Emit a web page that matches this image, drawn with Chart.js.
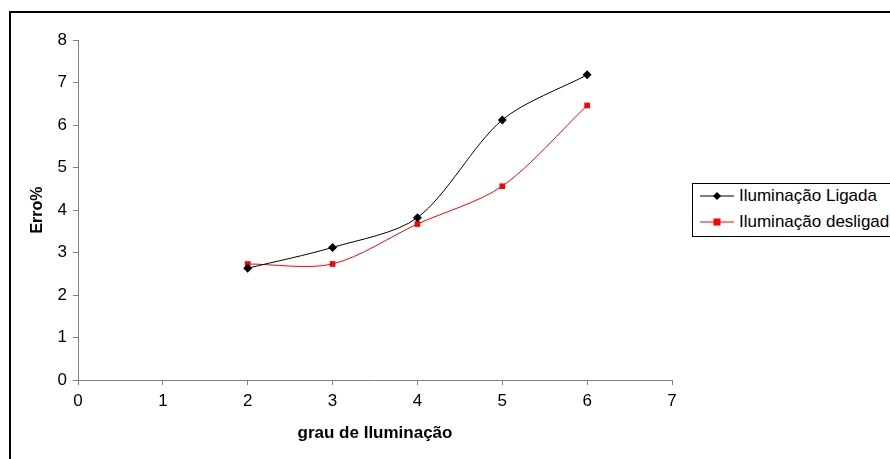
<!DOCTYPE html>
<html>
<head>
<meta charset="utf-8">
<script src="https://cdn.jsdelivr.net/npm/chart.js@4/dist/chart.umd.min.js"></script>
<style>
    body { margin: 0; background: #fff; overflow: hidden; }
    #wrap { position: relative; width: 890px; height: 459px; }
    #moldura { position: absolute; left: 9px; top: 11px; width: 900px; height: 470px; border: 2px solid #000; }
    #legenda { position: absolute; left: 692px; top: 183px; width: 220px; height: 52px; border: 1px solid #000;
        font-family: 'Liberation Sans', Arial, sans-serif; font-size: 17px; color: #000; background: #fff; }
    .item { position: absolute; left: 0; height: 22px; white-space: nowrap; }
    .item span { position: absolute; left: 46px; top: 0px; line-height: 20px; }
    .item svg { position: absolute; left: 7px; top: 3px; }
</style>
</head>
<body>
<div id="wrap">
    <div id="moldura"></div>
    <canvas id="grafico" width="890" height="459"></canvas>
    <div id="legenda">
        <div class="item" style="top:2px">
            <svg width="36" height="14"><line x1="0" y1="7" x2="34" y2="7" stroke="#000" stroke-width="1"/><polygon points="17,3 21,7 17,11 13,7" fill="#000"/></svg>
            <span>Iluminação Ligada</span>
        </div>
        <div class="item" style="top:28px">
            <svg width="36" height="14"><line x1="0" y1="7" x2="34" y2="7" stroke="#ff0000" stroke-width="1"/><rect x="13.5" y="3.5" width="7" height="7" fill="#ff0000"/></svg>
            <span>Iluminação desligada</span>
        </div>
    </div>
</div>
<script>
// dados
const grauIluminacao = [2, 3, 4, 5, 6];
const erroLigada = [2.63, 3.12, 3.82, 6.12, 7.18];
const erroDesligada = [2.73, 2.73, 3.67, 4.56, 6.46];
const ticksX = [0, 1, 2, 3, 4, 5, 6, 7];
const ticksY = [0, 1, 2, 3, 4, 5, 6, 7, 8];

Chart.defaults.font.family = "'Liberation Sans', Arial, sans-serif";
Chart.defaults.color = '#000';

const pontos = (ys) => grauIluminacao.map((x, i) => ({ x: x, y: ys[i] }));

new Chart(document.getElementById('grafico').getContext('2d'), {
    type: 'scatter',
    data: {
        datasets: [
            { label: 'Iluminação Ligada', data: pontos(erroLigada), showLine: true, borderColor: '#000', backgroundColor: '#000',
              borderWidth: 1, pointStyle: 'rectRot', pointRadius: 4.5, pointBorderWidth: 0, tension: 0.3 },
            { label: 'Iluminação desligada', data: pontos(erroDesligada), showLine: true, borderColor: '#ff0000', backgroundColor: '#ff0000',
              borderWidth: 1, pointStyle: 'rect', pointRadius: 4, pointBorderWidth: 0, tension: 0.3 }
        ]
    },
    options: {
        responsive: false,
        animation: false,
        layout: { padding: { top: 40, right: 218, left: 0, bottom: 0 } },
        plugins: { legend: { display: false }, tooltip: { enabled: false } },
        scales: {
            x: {
                type: 'linear', min: 0, max: 7,
                afterBuildTicks: (s) => { s.ticks = ticksX.map(v => ({ value: v })); },
                afterFit: (s) => { s.height = 79; },
                grid: { drawOnChartArea: false, drawTicks: true, tickLength: 5, color: '#808080' },
                border: { color: '#808080' },
                ticks: { font: { size: 17 }, padding: 6, maxRotation: 0 },
                title: { display: true, text: 'grau de Iluminação', font: { size: 17, weight: 'bold' }, padding: { bottom: 15 } }
            },
            y: {
                type: 'linear', min: 0, max: 8,
                afterBuildTicks: (s) => { s.ticks = ticksY.map(v => ({ value: v })); },
                afterFit: (s) => { s.width = 78; },
                grid: { drawOnChartArea: false, drawTicks: true, tickLength: 5, color: '#808080' },
                border: { color: '#808080' },
                ticks: { font: { size: 17 }, padding: 6 },
                title: { display: true, text: 'Erro%', font: { size: 16, weight: 'bold' }, padding: { top: 28 } }
            }
        }
    }
});
</script>
</body>
</html>
